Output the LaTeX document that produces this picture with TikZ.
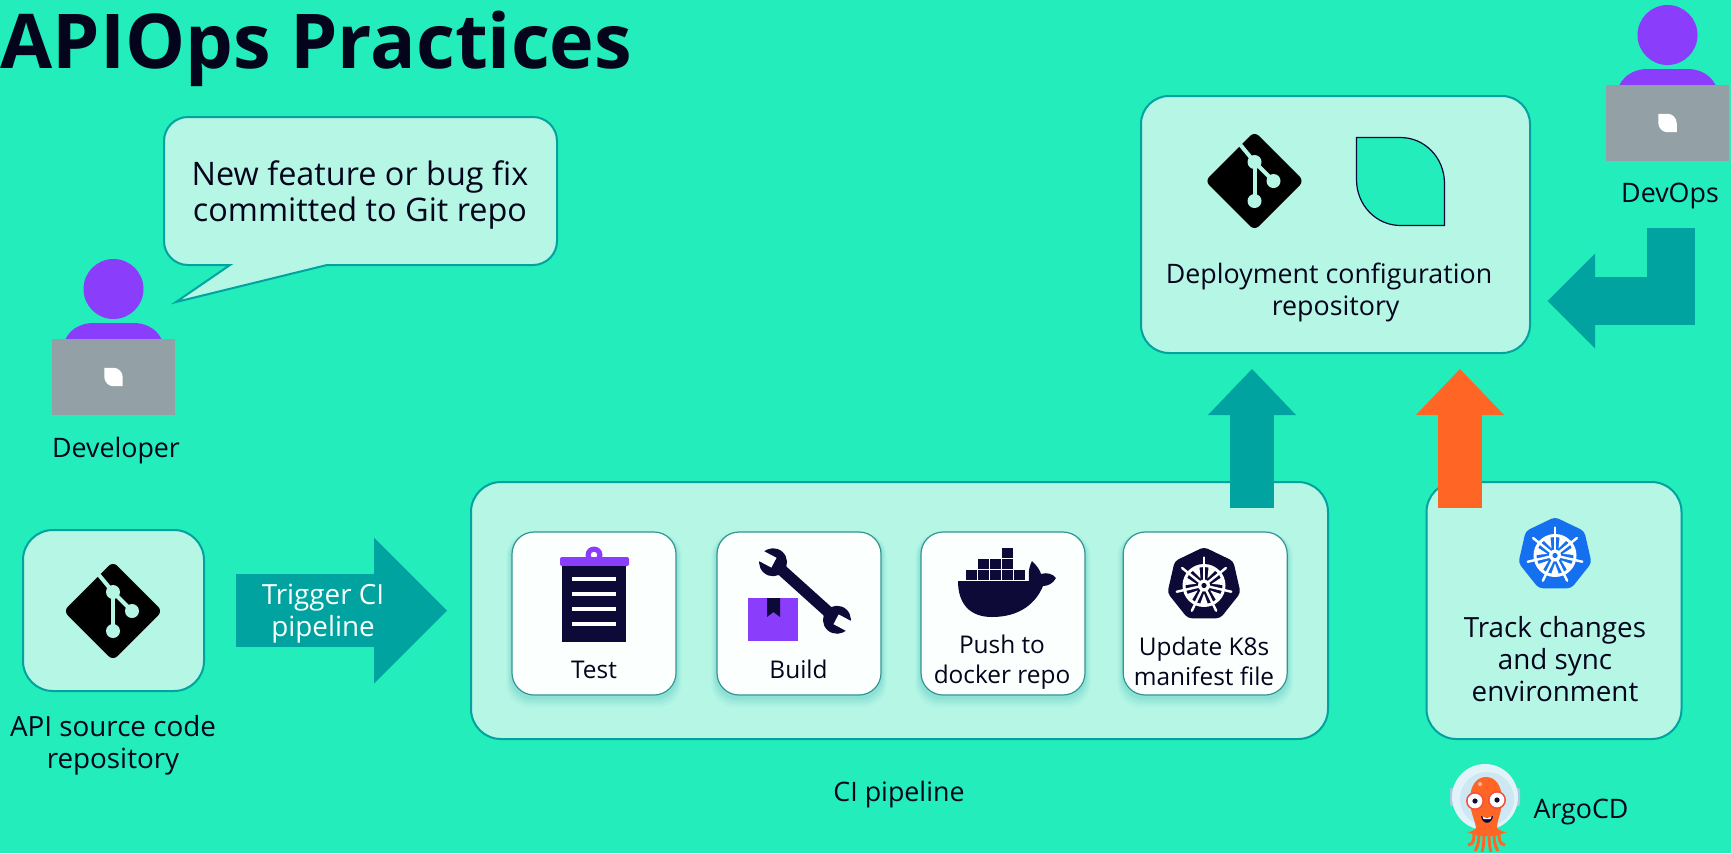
\documentclass[tikz,border=0pt]{standalone}
\usepackage{fontspec}
\setmainfont{Open Sans}
\usepackage{tikz}
\usetikzlibrary{positioning,arrows.meta,shadows}
\definecolor{bgmint}{HTML}{22EDBB}
\definecolor{boxmint}{HTML}{B5F6E5}
\definecolor{edgeteal}{HTML}{00A3A0}
\definecolor{inkdark}{HTML}{0D0A38}
\definecolor{textdark}{HTML}{04041C}
\definecolor{violet}{HTML}{8A3DFB}
\definecolor{lapgray}{HTML}{93A1A6}
\definecolor{flameorange}{HTML}{FF6626}
\definecolor{cardwhite}{HTML}{FBFFFD}
\definecolor{kubeblue}{HTML}{1470EE}
\definecolor{argorim}{HTML}{E2F2F9}
\definecolor{argoglass}{HTML}{CDE8F3}
\definecolor{argoear}{HTML}{A9CBE6}
\definecolor{argoring}{HTML}{F2503C}
\tikzset{
  pics/gitmark/.style={code={
    \fill[black,rounded corners=3pt] (-49.5,0) -- (0,-49.5) -- (49.5,0) -- (0,49.5) -- cycle;
    \draw[#1,line width=2pt] (-14,-36) -- (0,-19) -- (19,0);
    \draw[#1,line width=2pt] (0,-19) -- (0,20);
    \fill[#1] (0,-19) circle (7);
    \fill[#1] (19,0) circle (7);
    \fill[#1] (0,20) circle (7);
  }},
  pics/leafmark/.style={code={
    \path[#1] (-44,-44) -- (0,-44) .. controls (24,-44) and (44,-24) .. (44,2) -- (44,44)
      -- (0,44) .. controls (-24,44) and (-44,24) .. (-44,-2) -- cycle;
  }},
  pics/kubemark/.style={code={
    \fill[#1,rounded corners=2pt] (-90:37.5) \foreach \k in {1,...,6} { -- ({-90+\k*360/7}:37.5) } -- cycle;
    \begin{scope}[shift={(0,1)}]
      \draw[white,line width=1.5pt] (0,0) circle (20);
      \foreach \k in {0,...,6} {
        \draw[white,line width=1.2pt,line cap=round] (0,0) -- ({-90+\k*360/7}:28);
        \fill[white] ({-64.3+\k*360/7}:8) -- ({-76+\k*360/7}:19) -- ({-52.6+\k*360/7}:19) -- cycle;
      }
      \fill[white] (0,0) circle (6);
      \fill[#1] (0,0) circle (2.6);
    \end{scope}
  }},
  pics/laptopper/.style={code={
    \fill[violet] (0,-88) circle (30);
    \fill[violet] (-48,-38) .. controls (-42,-50) and (-30,-54) .. (-20,-54) -- (20,-54)
      .. controls (30,-54) and (42,-50) .. (48,-38) -- cycle;
    \fill[lapgray] (-61.5,-38) rectangle (61.5,38);
    \pic[scale=.21] {leafmark={fill=white}};
  }}
}
\begin{document}
\begin{tikzpicture}[x=.5pt,y=-.5pt,
    panel/.style={draw=edgeteal,fill=boxmint,line width=1pt,rounded corners=14pt,inner sep=0pt},
    cardbox/.style={draw=edgeteal!60!gray,fill=cardwhite,line width=.6pt,rounded corners=11pt,
      inner sep=0pt,minimum width=82pt,minimum height=81.5pt,
      general shadow={fill=edgeteal,opacity=.04,shadow xshift=0pt,shadow yshift=-3pt,shadow scale=1.07},
      general shadow={fill=edgeteal,opacity=.05,shadow xshift=0pt,shadow yshift=-2.5pt,shadow scale=1.05},
      general shadow={fill=edgeteal,opacity=.06,shadow xshift=0pt,shadow yshift=-2pt,shadow scale=1.035},
      general shadow={fill=edgeteal,opacity=.08,shadow xshift=0pt,shadow yshift=-1.5pt,shadow scale=1.02}},
    bodytext/.style={align=center,inner sep=0pt,text=textdark,font=\fontsize{13.4pt}{16pt}\selectfont},
    widetext/.style={bodytext,font=\fontsize{13.9pt}{16pt}\selectfont},
    cardtext/.style={align=center,inner sep=0pt,text=textdark,font=\fontsize{12.2pt}{15pt}\selectfont},
    bigflow/.style n args={3}{line width=#1,-{Triangle[width=#2,length=#3,line width=0pt]}},
  ]
  \path[use as bounding box,fill=bgmint] (0,0) rectangle (1731,853);
  \node(title) [anchor=base west,inner sep=0pt,text=textdark,font=\fontsize{37.8pt}{40pt}\selectfont\bfseries] at (0,68) {APIOps Practices};

  % developer and speech bubble
  \pic(dev) at (113.5,377) {laptopper};
  \node(devlabel) [bodytext] at (116,451) {Developer};
  \draw[panel,rounded corners=12pt] (164,117) -- (557,117) -- (557,265) [sharp corners] -- (327,265)
    -- (176,302) -- (230,265) [rounded corners=12pt] -- (164,265) -- cycle;
  \node(bubbletext) [bodytext,font=\fontsize{16.2pt}{18.2pt}\selectfont] at (360,195) {New feature or bug fix\\committed to Git repo};

  % source repo
  \node(srcbox) [panel,rounded corners=15pt,minimum width=90.5pt,minimum height=80.5pt] at (113.5,610.5) {};
  \pic(srcgit) at (113,611) {gitmark=boxmint};
  \node(srclabel) [widetext] at (113,745) {API source code\\repository};

  % ci pipeline
  \node(cibox) [panel,rounded corners=15pt,minimum width=428.5pt,minimum height=128.5pt] at (899.5,610.5) {};
  \node(cilabel) [bodytext] at (899,795) {CI pipeline};
  \node(testcard) [cardbox] at (594,613.5) {};
  \node(buildcard) [cardbox,right=19.9pt of testcard] {};
  \node(pushcard) [cardbox,right=19.4pt of buildcard] {};
  \node(updatecard) [cardbox,right=18.5pt of pushcard] {};
  \node(testlabel) [cardtext] at (594,670) {Test};
  \node(buildlabel) [cardtext] at (798.5,669.5) {Build};
  \node(pushlabel) [cardtext] at (1002,662) {Push to\\docker repo};
  \node(updatelabel) [cardtext] at (1204,661) {Update K8s\\manifest file};

  % clipboard
  \fill[violet] (594,555) circle (8.5);
  \fill[white] (594,555) circle (3.2);
  \fill[violet,rounded corners=1pt] (560,557) rectangle (629,566);
  \fill[inkdark] (562,566) rectangle (626,642);
  \foreach \y in {579,594,609,624}
    \fill[white] (572,\y-2) rectangle (616,\y+2);

  % parcel and wrench
  \fill[violet] (748,598) rectangle (798,641);
  \fill[inkdark] (767,598) -- (780,598) -- (780,617) -- (773.5,612) -- (767,617) -- cycle;
  \begin{scope}[shift={(805,591)},rotate=-42]
    \fill[inkdark] (-43,-5.7) rectangle (43,5.7);
    \fill[inkdark] (-43,0) circle (14);
    \fill[inkdark] (43,0) circle (14);
    \begin{scope}[shift={(43,0)},rotate=14]
      \fill[cardwhite] (-1,-5.5) rectangle (18,5.5);
    \end{scope}
    \begin{scope}[shift={(-43,0)},rotate=14]
      \fill[cardwhite] (1,-5.5) rectangle (-18,5.5);
    \end{scope}
  \end{scope}

  % docker whale
  \fill[inkdark] (958,581) -- (1029,581) .. controls (1028,570) and (1030,565) .. (1032,561)
    .. controls (1037,566) and (1040,570) .. (1041,574) .. controls (1047,572) and (1053,574) .. (1056,578)
    .. controls (1053,584) and (1047,586) .. (1043,586) .. controls (1036,603) and (1020,617) .. (992,617)
    .. controls (970,617) and (958,604) .. (958,581) -- cycle;
  \foreach \i in {0,...,4}
    \fill[inkdark] (966+12*\i,570) rectangle (976.5+12*\i,579.5);
  \foreach \i in {1,2,3}
    \fill[inkdark] (966+12*\i,559) rectangle (976.5+12*\i,568.5);
  \fill[inkdark] (1002,548) rectangle (1012.5,557.5);

  \pic(updatekube) at (1204,584.5) {kubemark=inkdark};

  % sync box
  \node(trackbox) [panel,rounded corners=15pt,minimum width=127.5pt,minimum height=128.5pt] at (1554,610.5) {};
  \pic(trackkube) at (1555,554.5) {kubemark=kubeblue};
  \node(tracklabel) [widetext] at (1555,659) {Track changes\\and sync\\environment};

  % argo squid
  \fill[argoear,rounded corners=1pt] (1450,788) rectangle (1520,806);
  \fill[argorim] (1485,797) circle (33);
  \fill[argoglass] (1487,799) circle (27);
  \foreach \a/\b/\c in {1474/1468/845,1479/1475/851,1484/1482/852,1489/1491/852,1494/1498/851,1499/1505/845}
    \draw[flameorange,line width=1.5pt] (\a,830) .. controls (\a,840) and (\a,844) .. (\b,\c);
  \fill[flameorange] (1470,800) .. controls (1470,785) and (1477,777) .. (1486,777)
    .. controls (1495,777) and (1502,785) .. (1502,800) .. controls (1502,812) and (1497,820) .. (1497,828)
    .. controls (1500,831) and (1503,832) .. (1507,832) -- (1496,836) -- (1478,836) -- (1467,832)
    .. controls (1471,832) and (1474,831) .. (1476,828) .. controls (1475,820) and (1470,812) .. (1470,800) -- cycle;
  \fill[white!55!flameorange] (1480,784) circle (2);
  \foreach \a/\b in {1475/801,1497/800} {
    \fill[argoring] (\a,\b) circle (9);
    \fill[white] (\a,\b) circle (7.3);
    \fill[inkdark] (\a,\b) circle (2.6);
  }
  \fill[inkdark] (1481,816) .. controls (1484,818) and (1490,818) .. (1493,816) .. controls (1492,825) and (1482,825) .. (1481,816) -- cycle;
  \fill[white] (1482.5,816.5) .. controls (1485,818) and (1489,818) .. (1491.5,816.5) -- (1490.5,819) -- (1483.5,819) -- cycle;
  \node(argolabel) [bodytext] at (1581,812) {ArgoCD};

  % deployment repo
  \node(deploybox) [panel,minimum width=194.5pt,minimum height=128.5pt] at (1335.5,224.5) {};
  \pic(deploygit) at (1254.5,181) {gitmark=boxmint};
  \pic(deployleaf) at (1400.5,181.5) {leafmark={fill=bgmint,draw=inkdark,line width=.6pt}};
  \node(deploylabel) [bodytext] at (1329,292) {Deployment configuration\\\hspace*{6.6pt}repository};

  % devops
  \pic(ops) at (1667.5,123) {laptopper};
  \node(opslabel) [bodytext] at (1670,196) {DevOps};

  % big arrows
  \coordinate(cishoot) at (1252,508);
  \coordinate(syncshoot) at (1460,508);
  \coordinate(opsdrop) at (1670.75,228);
  \coordinate(opsjog) at (1530,301);
  \draw[bigflow={36.5pt}{73pt}{36.5pt},edgeteal,shorten <=15.5pt,shorten >=11.5pt] (srcbox.east) -- (cibox.west);
  \node(triggerlabel) [widetext,text=cardwhite] at (323,614) {Trigger CI\\pipeline};
  \draw[bigflow={22pt}{44pt}{23pt},edgeteal,shorten >=7.5pt] (cishoot) -- (deploybox.south -| cishoot);
  \draw[bigflow={22pt}{44pt}{23pt},flameorange,shorten >=7.5pt] (syncshoot) -- (deploybox.south -| syncshoot);
  \draw[bigflow={24pt}{47.5pt}{23.75pt},edgeteal,shorten >=8.75pt] (opsdrop) |- (opsjog);
\end{tikzpicture}
\end{document}
